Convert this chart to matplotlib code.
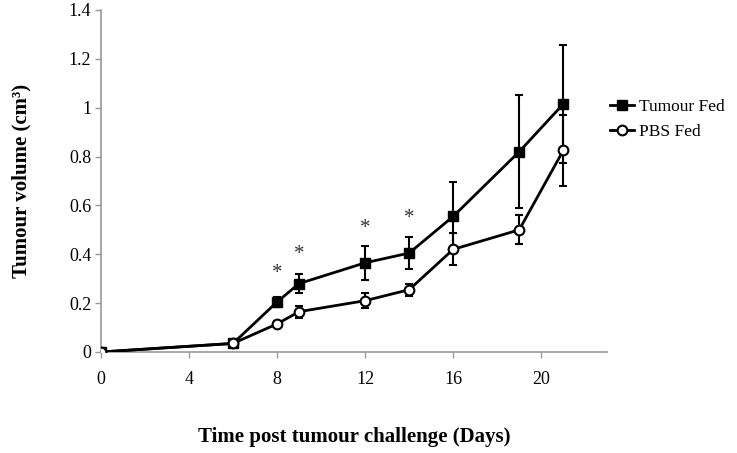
import matplotlib.pyplot as plt
from matplotlib.ticker import FuncFormatter
from matplotlib.lines import Line2D

days = [0, 6, 8, 9, 12, 14, 16, 19, 21]
tumour_fed = [0, 0.035, 0.205, 0.28, 0.365, 0.405, 0.555, 0.82, 1.015]
tumour_err = [0, 0.005, 0.02, 0.04, 0.07, 0.065, 0.14, 0.23, 0.24]
pbs_fed = [0, 0.035, 0.115, 0.165, 0.21, 0.255, 0.42, 0.50, 0.825]
pbs_err = [0, 0.005, 0.01, 0.025, 0.03, 0.025, 0.065, 0.06, 0.145]
star_days = [8, 9, 12, 14]
star_y = [0.32, 0.40, 0.505, 0.545]

plt.rcParams['font.family'] = ['Liberation Serif', 'DejaVu Serif']

fig = plt.figure(figsize=(7.37, 4.53), dpi=100)
ax = fig.add_axes([0.137, 0.223, 0.687, 0.755])

ax.errorbar(days, tumour_fed, yerr=tumour_err, color='black', lw=2,
            marker='s', ms=7, mfc='black', mec='black', capsize=3,
            elinewidth=1.5, capthick=1.5, zorder=3)
ax.errorbar(days, pbs_fed, yerr=pbs_err, color='black', lw=2,
            marker='o', ms=7, mfc='white', mec='black', mew=1.5, capsize=3,
            elinewidth=1.5, capthick=1.5, zorder=4)

for d, y in zip(star_days, star_y):
    ax.text(d, y, '*', ha='center', va='center', fontsize=15, color='#333333')

ax.set_xlim(0, 23)
ax.set_ylim(0, 1.4)
ax.set_xticks([0, 4, 8, 12, 16, 20])
ax.set_yticks([0, 0.2, 0.4, 0.6, 0.8, 1.0, 1.2, 1.4])
ax.yaxis.set_major_formatter(FuncFormatter(lambda v, p: f"{v:g}"))
ax.tick_params(labelsize=13, color='#999999', length=4, width=1)
ax.tick_params(axis='x', pad=10)
ax.tick_params(axis='y', pad=3)

for s in ['top', 'right']:
    ax.spines[s].set_visible(False)
for s in ['left', 'bottom']:
    ax.spines[s].set_color('#999999')
    ax.spines[s].set_linewidth(1.2)

ax.set_xlabel('Time post tumour challenge (Days)', fontsize=15,
              fontweight='bold', labelpad=28)
ax.set_ylabel('Tumour volume (cm³)', fontsize=15, fontweight='bold',
              labelpad=27)

handles = [
    Line2D([], [], color='black', lw=2, marker='s', ms=7, mfc='black'),
    Line2D([], [], color='black', lw=2, marker='o', ms=7, mfc='white', mew=1.5),
]
ax.legend(handles, ['Tumour Fed', 'PBS Fed'], loc='center left',
          bbox_to_anchor=(1.005, 0.68), frameon=False, fontsize=12.5,
          handlelength=1.4, handletextpad=0.3, labelspacing=0.55,
          borderpad=0, borderaxespad=0)

fig.savefig('out.png', dpi=100)
